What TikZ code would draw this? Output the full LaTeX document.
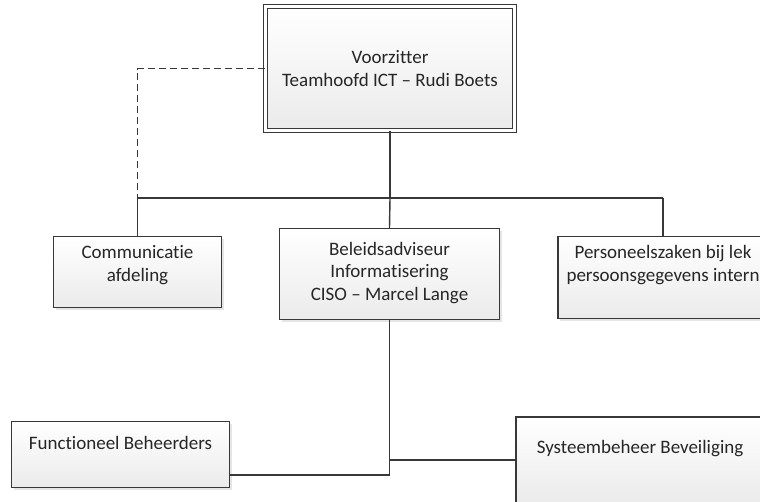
\documentclass[tikz,border=0pt]{standalone}
\usepackage{fontspec}
\setmainfont{Carlito}[Ligatures=NoCommon]
\usetikzlibrary{positioning,shadows}

\begin{document}
\begin{tikzpicture}[
  x=1pt,y=-1pt,
  font=\fontsize{19}{22.5}\selectfont,
  box/.style={draw=black!78,line width=1.3pt,top color=white,bottom color=black!8,inner sep=0pt,
    drop shadow={shadow xshift=2pt,shadow yshift=-2pt,opacity=0.25,fill=black!40}},
  tag/.style={align=center,text=black!85,inner sep=0pt},
  bus/.style={draw=black!78,line width=1.4pt}
]
\clip (0,0) rectangle (760,501);
\fill[white] (0,0) rectangle (760,501);

% boxes
\node[box,double=white,double distance=2.5pt,minimum width=249pt,minimum height=124pt] (top) at (390,68.5) {};
\node[box,minimum width=168pt,minimum height=71pt] (comm) at (137.5,272) {};
\node[box,minimum width=220pt,minimum height=91pt] (beleid) at (389.5,274) {};
\node[box,minimum width=210pt,minimum height=82pt] (pers) at (663,277.5) {};
\node[box,minimum width=218pt,minimum height=66pt] (func) at (120.5,454.5) {};
\node[box,minimum width=248pt,minimum height=86pt] (sys) at (640,460) {};

% texts
\node[tag] (top-t) at (top) {Voorzitter\\Teamhoofd ICT – Rudi Boets};
\node[tag] (comm-t) at ([yshift=7pt]comm.center) {Communicatie\\afdeling};
\node[tag] (beleid-t) at ([yshift=1pt]beleid.center) {Beleidsadviseur\\Informatisering\\CISO – Marcel Lange};
\node[tag] (pers-t) at ([yshift=12.5pt]pers.center) {Personeelszaken bij lek\\persoonsgegevens intern};
\node[tag] (func-t) at ([yshift=11.5pt]func.center) {Functioneel Beheerders};
\node[tag] (sys-t) at ([yshift=11pt]sys.center) {Systeembeheer Beveiliging};

% lines
\coordinate (bus-l) at (137.5,198);
\draw[bus,dash pattern=on 7pt off 4pt] (top.west) -| (bus-l);
\draw[bus] (top.south) -- (top.south |- bus-l);
\draw[bus] (bus-l) -- (bus-l -| pers.north);
\draw[bus] (bus-l) -- (comm.north);
\draw[bus] (top.south |- bus-l) -- (beleid.north);
\draw[bus] (bus-l -| pers.north) -- (pers.north);
\draw[bus] (beleid.south) |- ([yshift=13pt]func.south east);
\draw[bus] (sys.west) -- (sys.west -| beleid.south);
\end{tikzpicture}
\end{document}
